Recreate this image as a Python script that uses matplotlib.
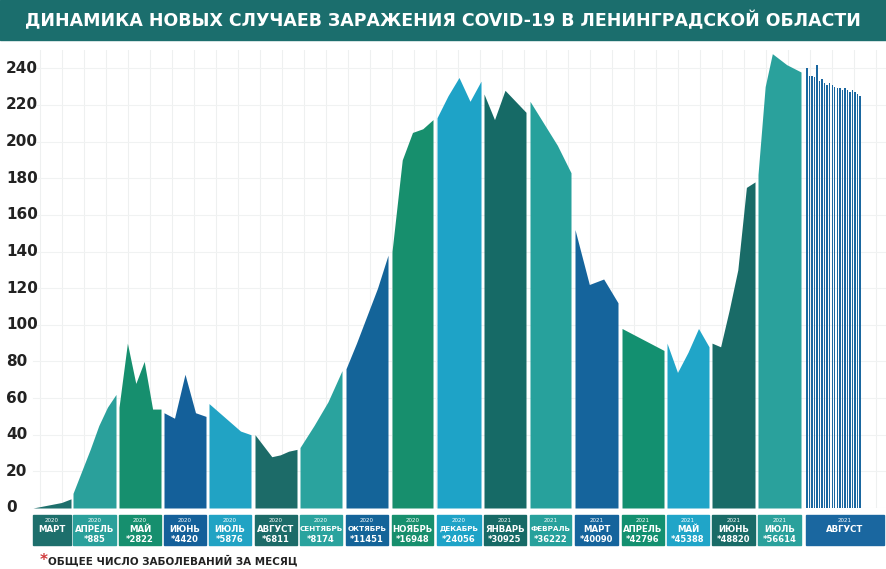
import matplotlib
matplotlib.use("Agg")
import matplotlib.pyplot as plt
import matplotlib.patches as mpatches
import numpy as np
from matplotlib import font_manager

names = {f.name for f in font_manager.fontManager.ttflist}
FONT = "Liberation Sans Narrow" if "Liberation Sans Narrow" in names else "DejaVu Sans"

# ---------- data ----------
MONTHS = ["МАРТ", "АПРЕЛЬ", "МАЙ", "ИЮНЬ", "ИЮЛЬ", "АВГУСТ", "СЕНТЯБРЬ", "ОКТЯБРЬ", "НОЯБРЬ",
          "ДЕКАБРЬ", "ЯНВАРЬ", "ФЕВРАЛЬ", "МАРТ", "АПРЕЛЬ", "МАЙ", "ИЮНЬ", "ИЮЛЬ", "АВГУСТ"]
YEARS = ["2020"] * 10 + ["2021"] * 8
TOTALS = ["", "*885", "*2822", "*4420", "*5876", "*6811", "*8174", "*11451", "*16948",
          "*24056", "*30925", "*36222", "*40090", "*42796", "*45388", "*48820", "*56614", ""]
VALUES = [
    [0, 1, 2, 3, 5],
    [8, 20, 32, 45, 55, 62],
    [55, 90, 68, 80, 54, 54],
    [52, 49, 73, 52, 50],
    [57, 52, 47, 42, 40],
    [40, 34, 28, 29, 31, 32],
    [33, 45, 58, 75],
    [76, 90, 105, 120, 138],
    [140, 190, 205, 207, 212],
    [213, 225, 235, 222, 233],
    [226, 212, 228, 222, 216],
    [222, 210, 198, 183],
    [152, 122, 125, 112],
    [98, 94, 90, 86],
    [90, 74, 85, 98, 88],
    [90, 88, 108, 130, 175, 178],
    [182, 230, 248, 245, 242, 240, 238],
]
AUG_BARS = [240, 236, 236, 235, 242, 233, 234, 232, 231, 232, 231, 230, 229, 229, 228,
            229, 228, 227, 228, 227, 226, 225]
COLORS = ["#1d6f6c", "#2aa09b", "#168f6e", "#14609a", "#21a3c4", "#1c6b68", "#2aa39e",
          "#146499", "#178f6d", "#1ea3c7", "#166a66", "#27a19c", "#15649c", "#139070",
          "#20a5c8", "#196b67", "#2aa19c", "#1a67a0"]
YTICKS = list(range(0, 241, 20))

# month spans in horizontal px units
SPANS = [(33, 71), (73, 116), (119, 161), (164, 206), (209, 251), (255, 297), (300, 342),
         (346, 388), (392, 433), (437, 481), (484, 526), (530, 571), (575, 618), (622, 664),
         (667, 709), (712, 755), (758, 801), (806, 884)]

W, H = 886, 569
fig = plt.figure(figsize=(W / 100, H / 100), dpi=100)
fig.patch.set_facecolor("white")

# title banner
fig.patches.append(mpatches.Rectangle((0, 1 - 40 / H), 1, 40 / H, transform=fig.transFigure,
                                      color="#1b6e6d", zorder=0))
fig.text(0.5, 1 - 21 / H, "ДИНАМИКА НОВЫХ СЛУЧАЕВ ЗАРАЖЕНИЯ COVID-19 В ЛЕНИНГРАДСКОЙ ОБЛАСТИ",
         ha="center", va="center", color="white", fontsize=12.5, fontweight="bold", family=FONT)

y0px, ytop = 508, 50
ax = fig.add_axes([0, 1 - y0px / H, 1, (y0px - ytop) / H])
ax.set_xlim(0, W)
ax.set_ylim(0, 250)
for s in ax.spines.values():
    s.set_visible(False)
ax.set_xticks([])
ax.set_yticks([])
for x in np.arange(40, 880, 22):
    ax.axvline(x, color="#eef0f0", lw=0.8, zorder=0)
for t in YTICKS:
    ax.axhline(t, xmin=33 / W, color="#f0f2f2", lw=0.8, zorder=0)
    ax.text(6, t, str(t), ha="left", va="center", fontsize=11, fontweight="bold",
            color="#222222", family=FONT)

for (a, b), vals, c in zip(SPANS, VALUES, COLORS):
    xs = np.linspace(a, b, len(vals))
    ax.fill_between(xs, 0, vals, color=c, lw=0, zorder=2)

a, b = SPANS[-1]
xs = np.linspace(a + 1, 860, len(AUG_BARS))
ax.bar(xs, AUG_BARS, width=1.4, color=COLORS[-1], zorder=2)

# month boxes
for (a, b), m, yr, tot, c in zip(SPANS, MONTHS, YEARS, TOTALS, COLORS):
    top, bot = 515, 545
    fig.patches.append(mpatches.Rectangle((a / W, 1 - bot / H), (b - a) / W, (bot - top) / H,
                                          transform=fig.transFigure, color=c))
    cx = (a + b) / 2 / W
    fig.text(cx, 1 - 520 / H, yr, ha="center", va="center", color="white", fontsize=4,
             family=FONT)
    fig.text(cx, 1 - 529 / H, m, ha="center", va="center", color="white",
             fontsize=5.2 if len(m) > 6 else 6.2, fontweight="bold", family=FONT)
    if tot:
        fig.text(cx, 1 - 539 / H, tot, ha="center", va="center", color="white", fontsize=6,
                 fontweight="bold", family=FONT)

fig.text(40 / W, 1 - 561 / H, "*", ha="left", va="center", color="#d0393c", fontsize=11,
         fontweight="bold", family=FONT)
fig.text(48 / W, 1 - 561 / H, "ОБЩЕЕ ЧИСЛО ЗАБОЛЕВАНИЙ ЗА МЕСЯЦ", ha="left", va="center",
         color="#222222", fontsize=7.5, fontweight="bold", family=FONT)

fig.savefig("out.png", dpi=100, facecolor="white")
